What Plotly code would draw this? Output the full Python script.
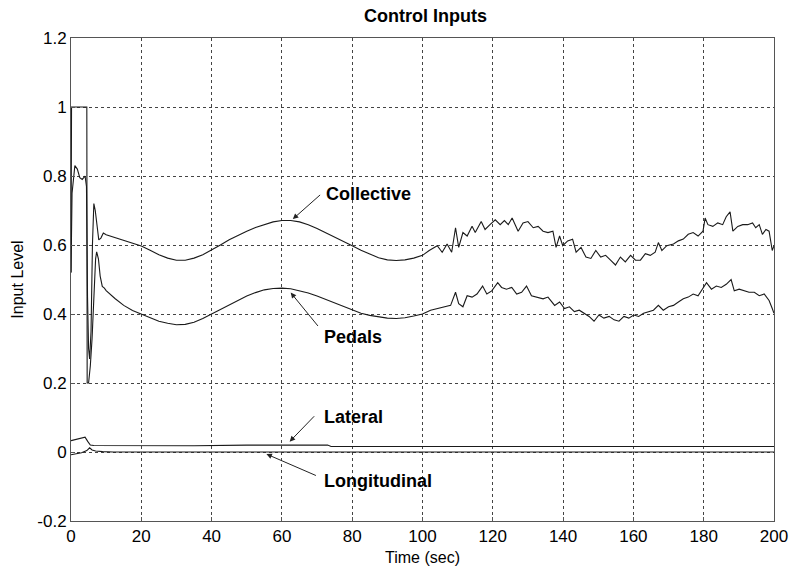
import plotly.graph_objects as go

# ---------------- data ----------------
x_ticks = [0, 20, 40, 60, 80, 100, 120, 140, 160, 180, 200]
x_tick_labels = ["0", "20", "40", "60", "80", "100", "120", "140", "160", "180", "200"]
y_ticks = [-0.2, 0, 0.2, 0.4, 0.6, 0.8, 1.0, 1.2]
y_tick_labels = ["-0.2", "0", "0.2", "0.4", "0.6", "0.8", "1", "1.2"]

collective_t = [0, 0.3, 1.1, 1.8, 2.5, 3.2, 4.0, 4.4, 4.7, 5.0, 5.3, 5.7, 6.1, 6.5, 6.9,
                7.4, 7.9, 8.5, 9.2, 10.0, 12.5, 15.0, 17.5, 20.0, 22.5, 25.0, 27.5,
                30.0, 32.5, 35.0, 37.5, 40.0, 42.5, 45.0, 47.5, 50.0, 52.5, 55.0, 57.5,
                60.0, 62.5, 65.0, 67.5, 70.0, 72.5, 75.0, 77.5, 80.0, 82.5, 85.0, 87.5,
                90.0, 92.5, 95.0, 97.5,
                100.0, 101.9, 104.2, 105.6, 107.0, 108.3, 109.4, 110.3, 111.5, 112.7,
                114.1, 115.0, 116.7, 117.8, 119.2, 120.7, 122.1, 123.3, 124.4, 125.5,
                127.2, 128.6, 130.0, 131.5, 132.9, 134.3, 135.7, 137.1, 138.0, 139.0,
                139.9, 141.3, 142.7, 143.7, 145.1, 146.5, 147.9, 149.3, 150.7, 152.1,
                153.5, 154.9, 156.3, 157.7, 159.2, 160.6, 162.0, 163.4, 164.8, 166.2,
                167.1, 168.1, 169.5, 171.4, 172.8, 174.2, 175.6, 177.0, 178.4, 179.8,
                180.4, 181.2, 182.6, 184.0, 185.4, 186.4, 187.5, 188.3, 189.7, 191.1,
                192.5, 193.9, 194.8, 195.8, 196.7, 197.7, 198.6, 199.5, 200.0]
collective_v = [0.52, 0.75, 0.83, 0.82, 0.795, 0.79, 0.80, 0.77, 0.45, 0.30, 0.27, 0.35,
                0.60, 0.72, 0.70, 0.65, 0.615, 0.62, 0.635, 0.630, 0.622, 0.612, 0.604,
                0.597, 0.585, 0.572, 0.562, 0.556, 0.556, 0.562, 0.572, 0.585, 0.600,
                0.615, 0.628, 0.640, 0.651, 0.660, 0.667, 0.671, 0.671, 0.667, 0.659,
                0.648, 0.636, 0.624, 0.611, 0.598, 0.585, 0.573, 0.563, 0.557, 0.555,
                0.557, 0.562,
                0.570, 0.584, 0.598, 0.579, 0.603, 0.579, 0.650, 0.593, 0.636, 0.626,
                0.654, 0.636, 0.668, 0.645, 0.659, 0.673, 0.659, 0.671, 0.659, 0.678,
                0.640, 0.664, 0.668, 0.650, 0.654, 0.640, 0.636, 0.640, 0.593, 0.626,
                0.598, 0.612, 0.617, 0.579, 0.593, 0.565, 0.561, 0.584, 0.565, 0.570,
                0.556, 0.542, 0.565, 0.551, 0.570, 0.556, 0.556, 0.575, 0.570, 0.579,
                0.607, 0.584, 0.598, 0.603, 0.612, 0.617, 0.631, 0.636, 0.626, 0.640,
                0.678, 0.659, 0.654, 0.664, 0.659, 0.682, 0.696, 0.640, 0.654, 0.659,
                0.659, 0.664, 0.650, 0.659, 0.631, 0.645, 0.640, 0.584, 0.598]

pedals_t = [0, 0.15, 4.5, 4.6, 5.0, 5.5, 6.0, 6.5, 7.0, 7.3, 7.8, 8.3, 8.9, 9.5, 10.0,
            12.5, 15.0, 17.5, 20.0, 22.5, 25.0, 27.5, 30.0, 32.5, 35.0, 37.5, 40.0,
            42.5, 45.0, 47.5, 50.0, 52.5, 55.0, 57.5, 60.0, 62.5, 65.0, 67.5, 70.0,
            72.5, 75.0, 77.5, 80.0, 82.5, 85.0, 87.5, 90.0, 92.5, 95.0, 97.5,
            100.0, 102.3, 104.7, 106.6, 108.0, 109.4, 110.3, 111.5, 112.7, 114.1,
            115.5, 117.1, 118.3, 119.7, 121.4, 122.5, 123.9, 125.4, 126.8, 128.2,
            129.6, 131.0, 132.9, 134.3, 135.7, 137.6, 139.0, 140.4, 141.8, 143.2,
            144.6, 146.0, 147.4, 148.8, 150.2, 151.6, 153.1, 154.5, 155.9, 157.3,
            158.7, 160.1, 161.5, 162.9, 164.3, 165.7, 167.1, 168.5, 170.0, 171.4,
            172.8, 174.2, 175.6, 177.0, 178.4, 179.8, 180.8, 182.2, 183.6, 185.0,
            186.4, 187.8, 188.7, 190.1, 191.5, 192.9, 194.4, 195.8, 197.2, 198.6,
            199.5, 200.0]
pedals_v = [0.52, 1.0, 1.0, 0.20, 0.20, 0.25, 0.33, 0.45, 0.56, 0.58, 0.56, 0.51, 0.48,
            0.475, 0.468, 0.445, 0.425, 0.410, 0.399, 0.388, 0.379, 0.373, 0.369,
            0.370, 0.376, 0.387, 0.400, 0.413, 0.427, 0.440, 0.452, 0.462, 0.470,
            0.474, 0.475, 0.473, 0.468, 0.461, 0.452, 0.442, 0.431, 0.420, 0.410,
            0.402, 0.396, 0.391, 0.388, 0.387, 0.389, 0.394,
            0.400, 0.411, 0.416, 0.421, 0.425, 0.463, 0.430, 0.421, 0.453, 0.449,
            0.458, 0.481, 0.458, 0.467, 0.491, 0.477, 0.472, 0.477, 0.458, 0.463,
            0.481, 0.453, 0.449, 0.444, 0.449, 0.425, 0.435, 0.416, 0.421, 0.407,
            0.411, 0.402, 0.393, 0.379, 0.397, 0.388, 0.393, 0.383, 0.379, 0.393,
            0.388, 0.397, 0.393, 0.402, 0.407, 0.411, 0.425, 0.411, 0.421, 0.425,
            0.435, 0.444, 0.449, 0.458, 0.453, 0.477, 0.491, 0.472, 0.481, 0.477,
            0.486, 0.500, 0.467, 0.472, 0.467, 0.463, 0.463, 0.453, 0.458, 0.439,
            0.416, 0.402]

lateral_t = [0, 1.0, 2.5, 4.0, 4.8, 5.5, 6.5, 8, 10, 20, 28, 35, 50, 73, 74, 100, 150, 200]
lateral_v = [0.033, 0.036, 0.040, 0.043, 0.030, 0.020, 0.019, 0.019, 0.019, 0.019,
             0.017, 0.018, 0.020, 0.020, 0.016, 0.016, 0.016, 0.016]

longitudinal_t = [0, 1.5, 3.0, 4.5, 5.3, 6.0, 7.0, 9.0, 12, 200]
longitudinal_v = [-0.008, -0.006, -0.002, 0.004, 0.012, 0.006, 0.003, 0.001, 0.0, 0.0]

labels = ["Collective", "Pedals", "Lateral", "Longitudinal"]
label_pos_t = [72.1, 71.3, 71.3, 71.3]
label_pos_v = [0.748, 0.334, 0.102, -0.085]
arrow_tail_t = [71.3, 70.6, 69.6, 70.1]
arrow_tail_v = [0.749, 0.361, 0.108, -0.070]
arrow_tip_t = [63.1, 62.5, 62.2, 55.6]
arrow_tip_v = [0.675, 0.462, 0.030, -0.006]

# ---------------- figure ----------------
FONT = "Liberation Sans, Arial, sans-serif"
line_style = dict(color="#1a1a1a", width=1.1)

fig = go.Figure()
for t, v, name in [(collective_t, collective_v, "Collective"),
                   (pedals_t, pedals_v, "Pedals"),
                   (lateral_t, lateral_v, "Lateral"),
                   (longitudinal_t, longitudinal_v, "Longitudinal")]:
    fig.add_trace(go.Scatter(x=t, y=v, mode="lines", line=line_style, name=name,
                             showlegend=False))

annotations = []
for lab, lt, lv, at, av, tt, tv in zip(labels, label_pos_t, label_pos_v,
                                       arrow_tail_t, arrow_tail_v,
                                       arrow_tip_t, arrow_tip_v):
    annotations.append(dict(x=lt, y=lv, xref="x", yref="y", text="<b>%s</b>" % lab,
                            showarrow=False, xanchor="left", yanchor="middle",
                            font=dict(family=FONT, size=18, color="black")))
    annotations.append(dict(x=tt, y=tv, ax=at, ay=av, xref="x", yref="y",
                            axref="x", ayref="y", text="", showarrow=True,
                            arrowhead=2, arrowsize=1.1, arrowwidth=1,
                            arrowcolor="#222", standoff=0, startstandoff=0))

axis_common = dict(showline=True, linecolor="#555", linewidth=1, mirror=True,
                   ticks="inside", ticklen=4, tickcolor="#555",
                   showgrid=True, gridcolor="#444", griddash="dot", gridwidth=1,
                   zeroline=False,
                   tickfont=dict(family=FONT, size=17, color="black"))

fig.update_layout(
    width=800, height=576,
    margin=dict(l=71, r=20, t=38, b=51),
    paper_bgcolor="white", plot_bgcolor="white",
    title=dict(text="<b>Control Inputs</b>", x=(71 + 780) / 2 / 800, xanchor="center",
               y=1 - 16 / 576, yanchor="middle",
               font=dict(family=FONT, size=18, color="black")),
    xaxis=dict(range=[0, 200], tickvals=x_ticks, ticktext=x_tick_labels,
               title=dict(text="Time (sec)", standoff=6,
                          font=dict(family=FONT, size=16, color="black")),
               **axis_common),
    yaxis=dict(range=[-0.2, 1.2], tickvals=y_ticks, ticktext=y_tick_labels,
               title=dict(text="Input Level", standoff=9,
                          font=dict(family=FONT, size=16, color="black")),
               **axis_common),
    annotations=annotations,
)

fig.write_html("out.html")
